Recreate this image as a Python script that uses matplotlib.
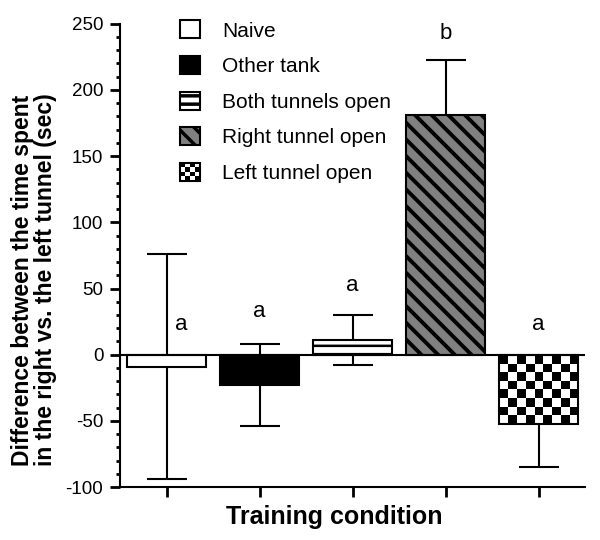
import numpy as np
import matplotlib
matplotlib.use('Agg')
import matplotlib.pyplot as plt
from matplotlib.patches import Rectangle
from matplotlib.legend_handler import HandlerBase
from matplotlib.ticker import MultipleLocator

plt.rcParams['font.family'] = ['Liberation Sans', 'DejaVu Sans']
plt.rcParams['hatch.linewidth'] = 2.5
plt.rcParams['axes.unicode_minus'] = False

#===========================================================
#               data
#===========================================================
conditions = ['Naive', 'Other tank', 'Both tunnels open',
              'Right tunnel open', 'Left tunnel open']
means = [-9, -23, 11, 181, -52]
errors = [85, 31, 19, 42, 33]
letters = ['a', 'a', 'a', 'b', 'a']
letter_y = [23, 33, 52, 243, 23]
letter_dx = [0.16, 0, 0, 0, 0]

facecols = ['white', 'black', 'white', '#808080', 'none']
hatches = [None, None, '--', '\\\\', None]
hatch_lw = [1, 1, 1.8, 2.8, 1]

#===========================================================
#               helpers
#===========================================================
class CheckerHandler(HandlerBase):
    def create_artists(self, legend, orig_handle, xdescent, ydescent,
                       width, height, fontsize, trans):
        out = [Rectangle((-xdescent, -ydescent), width, height, fc='white',
                         ec='none', transform=trans)]
        n = 4
        cw, ch = width / n, height / n
        for i in range(n):
            for j in range(n):
                if (i + j) % 2 == 0:
                    out.append(Rectangle((-xdescent + j * cw, -ydescent + height - (i + 1) * ch),
                                         cw, ch, fc='black', ec='none', transform=trans))
        out.append(Rectangle((-xdescent, -ydescent), width, height, fc='none',
                             ec='black', lw=1.5, transform=trans))
        return out

def set_hlw(p, lw):
    if hasattr(p, 'set_hatch_linewidth'):
        p.set_hatch_linewidth(lw)

#===========================================================
#               plot
#===========================================================
fig = plt.figure(figsize=(6, 5.4), dpi=100)
ax = fig.add_axes([0.2, 0.098, 0.775, 0.858])

x = np.arange(len(means))
w = 0.86

ax.errorbar(x, means, yerr=errors, fmt='none', ecolor='black', elinewidth=1.5,
            capsize=14.5, capthick=1.5, zorder=1)
bars = ax.bar(x, means, width=w, color=facecols, edgecolor='black',
              linewidth=1.5, zorder=3)
for b, h, lw in zip(bars, hatches, hatch_lw):
    if h:
        b.set_hatch(h)
        set_hlw(b, lw)

# checkerboard fill for the last bar
cb = np.indices((8, 9)).sum(axis=0) % 2
ax.imshow(cb, cmap='gray', interpolation='nearest', aspect='auto', origin='upper',
          extent=(x[4] - w / 2, x[4] + w / 2, means[4], 0), zorder=2)

ax.axhline(0, color='black', lw=1.5, zorder=4)

for xi, dx, yl, t in zip(x, letter_dx, letter_y, letters):
    ax.text(xi + dx, yl, t, ha='center', va='center', fontsize=16)

ax.set_xlim(-0.5, 4.5)
ax.set_ylim(-100, 250)
ax.yaxis.set_major_locator(MultipleLocator(50))
ax.yaxis.set_minor_locator(MultipleLocator(10))
ax.set_xticks(x)
ax.set_xticklabels([])

for s in ['top', 'right']:
    ax.spines[s].set_visible(False)
for s in ['left', 'bottom']:
    ax.spines[s].set_linewidth(1.5)

ax.tick_params(axis='y', which='major', direction='out', length=7, width=2,
               labelsize=13.5, pad=5)
ax.tick_params(axis='y', which='minor', direction='out', length=3, width=2)
ax.tick_params(axis='x', which='major', direction='out', length=7, width=2)

ax.set_ylabel('Difference between the time spent\nin the right vs. the left tunnel (sec)',
              fontsize=16.5, fontweight='bold', linespacing=1.0)
ax.yaxis.set_label_coords(-0.135, 0.447)
ax.set_xlabel('Training condition', fontsize=18, fontweight='bold')
ax.xaxis.set_label_coords(0.46, -0.038)

handles = [Rectangle((0, 0), 1, 1, fc=fc if fc != 'none' else 'white',
                     ec='black', lw=1.5, hatch=h) for fc, h in zip(facecols, hatches)]
for hd, lw in zip(handles, hatch_lw):
    set_hlw(hd, lw)
handles[-1] = Rectangle((0, 0), 1, 1)
leg = ax.legend(handles, conditions, loc='upper left',
                bbox_to_anchor=(0.268, 0.997), bbox_transform=fig.transFigure,
                frameon=False, fontsize=15, handlelength=0.96, handleheight=0.96,
                labelspacing=0.74, handletextpad=1.1,
                handler_map={handles[-1]: CheckerHandler()})

fig.savefig('out.png', dpi=100)
